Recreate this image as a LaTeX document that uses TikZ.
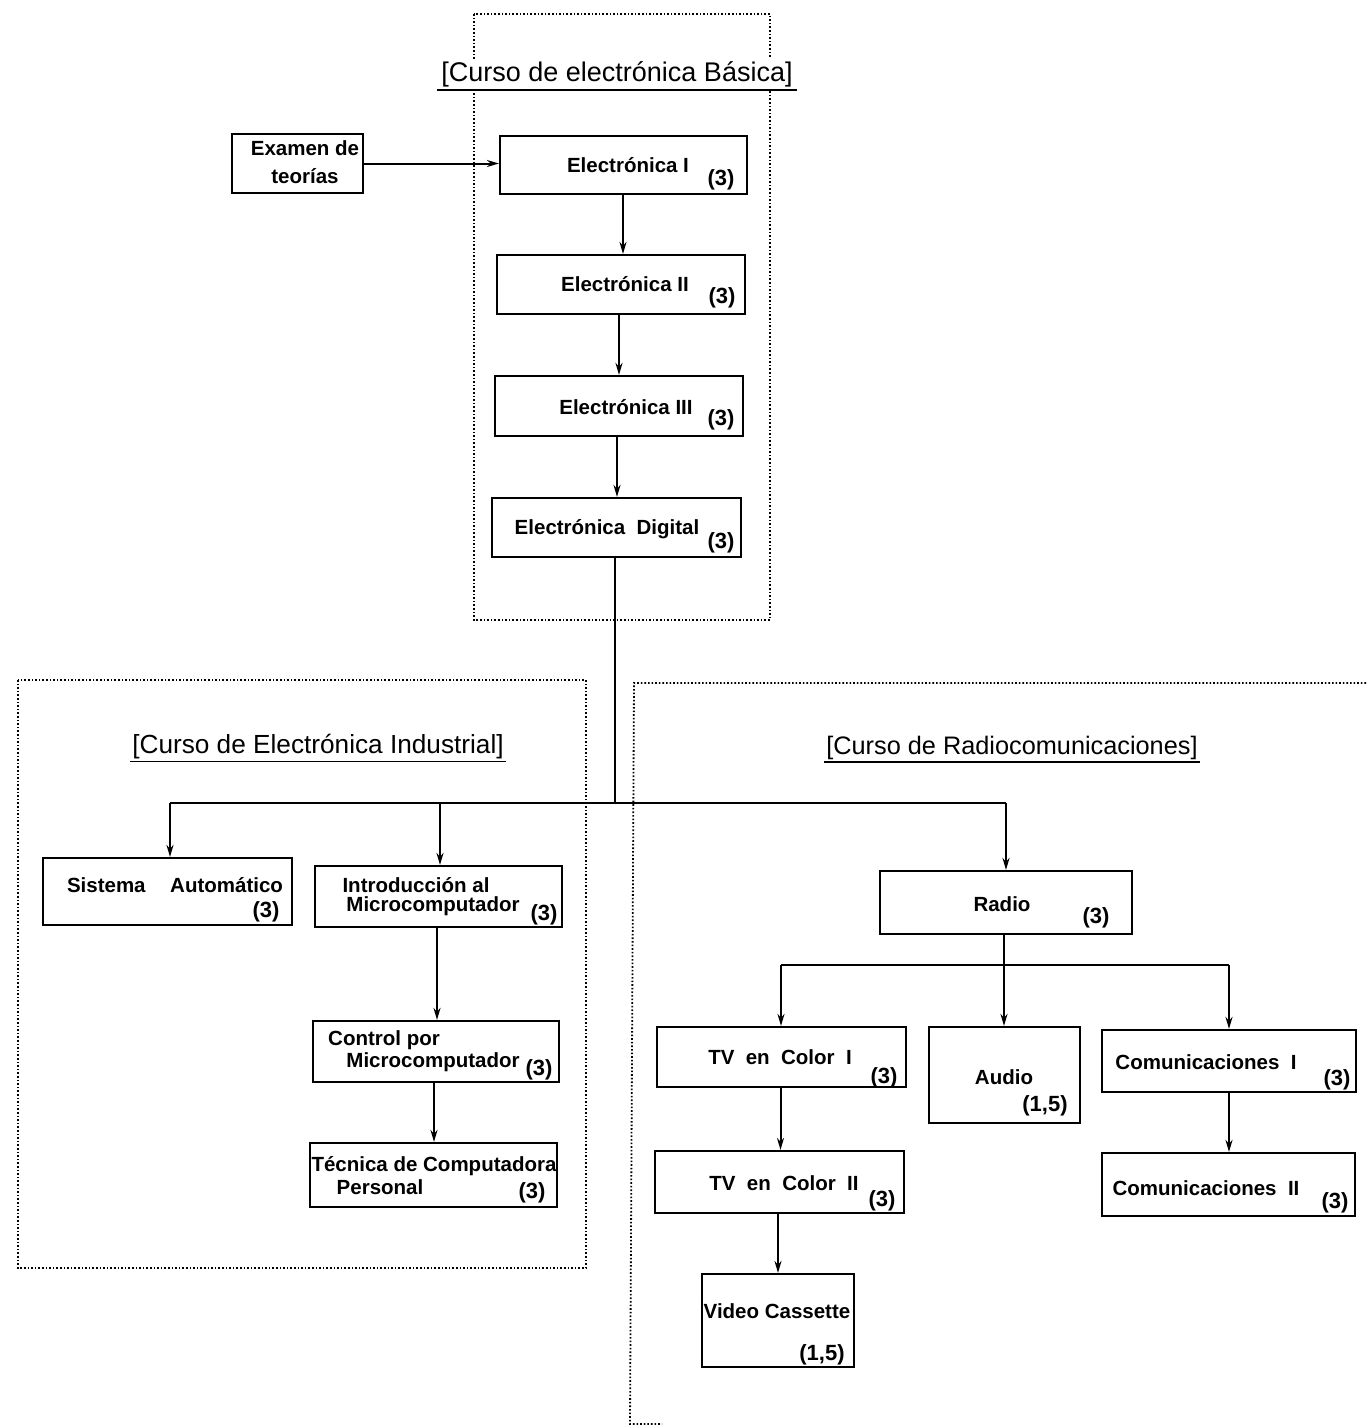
\documentclass[tikz,border=0pt]{standalone}
\usepackage{fontspec}
\setmainfont{Liberation Sans}
\usetikzlibrary{arrows.meta}
\begin{document}
\begin{tikzpicture}[x=1pt,y=-1pt,
  bx/.style={draw, line width=2.2pt, inner sep=0pt},
  lbl/.style={inner sep=0pt, font=\fontsize{20.5}{24}\selectfont\bfseries, align=center},
  num/.style={inner sep=0pt, font=\fontsize{22}{26}\selectfont\bfseries},
  frame/.style={line width=1.8pt, dash pattern=on 1.6pt off 2pt},
  conn/.style={line width=2pt},
  arr/.style={line width=2pt, -{Stealth[length=12pt,width=7pt]}}
]
\useasboundingbox (0,0) rectangle (1366,1427);
\fill[white] (0,0) rectangle (1366,1427);

% dotted frames
\draw[frame] (474,14) rectangle (770,620);
\draw[frame] (18,680) rectangle (586,1268);
\draw[frame] (1366,683) -- (634,683) -- (630,1424) -- (662,1424);

% titles
\node[inner sep=2pt, fill=white, font=\fontsize{27}{32}\selectfont] (tb) at (617,74) {[Curso de electrónica Básica]};
\draw[line width=1.8pt] ([xshift=-2pt,yshift=-1pt]tb.south west) -- ([xshift=2pt,yshift=-1pt]tb.south east);
\node[inner sep=2pt, font=\fontsize{26.2}{31}\selectfont] (ti) at (318,747) {[Curso de Electrónica Industrial]};
\draw[line width=1.8pt] (ti.south west) -- (ti.south east);
\node[inner sep=2pt, font=\fontsize{25.3}{30}\selectfont] (tr) at (1012,748) {[Curso de Radiocomunicaciones]};
\draw[line width=1.8pt] (tr.south west) -- (tr.south east);

% boxes
\node[bx, minimum width=131, minimum height=59] (ex) at (297.5,163.5) {};
\node[bx, minimum width=247, minimum height=58] (e1) at (623.5,165) {};
\node[bx, minimum width=248, minimum height=59] (e2) at (621,284.5) {};
\node[bx, minimum width=248, minimum height=60] (e3) at (619,406) {};
\node[bx, minimum width=249, minimum height=59] (ed) at (616.5,527.5) {};
\node[bx, minimum width=249, minimum height=67] (sa) at (167.5,891.5) {};
\node[bx, minimum width=247, minimum height=61] (im) at (438.5,896.5) {};
\node[bx, minimum width=246, minimum height=61] (cm) at (436,1051.5) {};
\node[bx, minimum width=247, minimum height=64] (tc) at (433.5,1175) {};
\node[bx, minimum width=252, minimum height=63] (ra) at (1006,902.5) {};
\node[bx, minimum width=249, minimum height=60] (t1) at (781.5,1057) {};
\node[bx, minimum width=151, minimum height=96] (au) at (1004.5,1075) {};
\node[bx, minimum width=254, minimum height=62] (c1) at (1229,1061) {};
\node[bx, minimum width=249, minimum height=62] (t2) at (779.5,1182) {};
\node[bx, minimum width=253, minimum height=63] (c2) at (1228.5,1184.5) {};
\node[bx, minimum width=152, minimum height=93] (vc) at (778,1320.5) {};

% box texts
\node[lbl] (exl) at (305,162) {Examen de\\[4pt]teorías};
\node[lbl] (e1l) at (628,165) {Electrónica I};
\node[num] (e1n) at (721,180) {(3)};
\node[lbl] (e2l) at (625,284) {Electrónica II};
\node[num] (e2n) at (722,298) {(3)};
\node[lbl] (e3l) at (626,407) {Electrónica III};
\node[num] (e3n) at (721,420) {(3)};
\node[lbl] (edl) at (607,529) {Electrónica\ \ Digital};
\node[num] (edn) at (721,543) {(3)};
\node[lbl] (sal) at (175,885) {Sistema\hspace{1.2em}Automático};
\node[num] (san) at (266,912) {(3)};
\node[lbl] (iml1) at (416,885) {Introducción al};
\node[lbl] (iml2) at (433,906) {Microcomputador};
\node[num] (imn) at (544,915) {(3)};
\node[lbl] (cml1) at (384,1040) {Control por};
\node[lbl] (cml2) at (433,1062) {Microcomputador};
\node[num] (cmn) at (539,1070) {(3)};
\node[lbl] (tcl1) at (434,1166) {Técnica de Computadora};
\node[lbl] (tcl2) at (380,1187) {Personal};
\node[num] (tcn) at (532,1193) {(3)};
\node[lbl] (ral) at (1002,904) {Radio};
\node[num] (ran) at (1096,918) {(3)};
\node[lbl] (t1l) at (780,1057) {TV\ \ en\ \ Color\ \ I};
\node[num] (t1n) at (884,1078) {(3)};
\node[lbl] (aul) at (1004,1077) {Audio};
\node[num] (aun) at (1045,1106) {(1,5)};
\node[lbl] (c1l) at (1206,1062) {Comunicaciones\ \ I};
\node[num] (c1n) at (1337,1080) {(3)};
\node[lbl] (t2l) at (784,1183) {TV\ \ en\ \ Color\ \ II};
\node[num] (t2n) at (882,1201) {(3)};
\node[lbl] (c2l) at (1206,1188) {Comunicaciones\ \ II};
\node[num] (c2n) at (1335,1203) {(3)};
\node[lbl] (vcl) at (777,1311) {Video Cassette};
\node[num] (vcn) at (822,1355) {(1,5)};

% connectors
\draw[arr] (ex.east) -- (ex.east -| e1.west);
\draw[arr] ([xshift=-0.5pt]e1.south) -- ([xshift=-0.5pt]e1.south |- e2.north);
\draw[arr] ([xshift=-2pt]e2.south) -- ([xshift=-2pt]e2.south |- e3.north);
\draw[arr] ([xshift=-2pt]e3.south) -- ([xshift=-2pt]e3.south |- ed.north);

\coordinate (jl) at (170,803);
\coordinate (jm) at (440,803);
\coordinate (jr) at (1006,803);
\draw[conn] ([xshift=-1.5pt]ed.south) -- ([xshift=-1.5pt]ed.south |- jl);
\draw[conn] (jl) -- (jr);
\draw[arr] (jl) -- (jl |- sa.north);
\draw[arr] (jm) -- (jm |- im.north);
\draw[arr] (jr) -- (ra.north);
\draw[arr] ([xshift=-1.5pt]im.south) -- ([xshift=-1.5pt]im.south |- cm.north);
\draw[arr] ([xshift=-2pt]cm.south) -- ([xshift=-2pt]cm.south |- tc.north);

\coordinate (rl) at (781,965);
\coordinate (rm) at (1004,965);
\coordinate (rr) at (1229,965);
\draw[conn] ([xshift=-2pt]ra.south) -- (rm);
\draw[conn] (rl) -- (rr);
\draw[arr] (rl) -- (rl |- t1.north);
\draw[arr] (rm) -- (rm |- au.north);
\draw[arr] (rr) -- (rr |- c1.north);
\draw[arr] ([xshift=-1pt]t1.south) -- ([xshift=-1pt]t1.south |- t2.north);
\draw[arr] ([xshift=-1.5pt]t2.south) -- ([xshift=-1.5pt]t2.south |- vc.north);
\draw[arr] (c1.south) -- (c1.south |- c2.north);
\end{tikzpicture}
\end{document}
